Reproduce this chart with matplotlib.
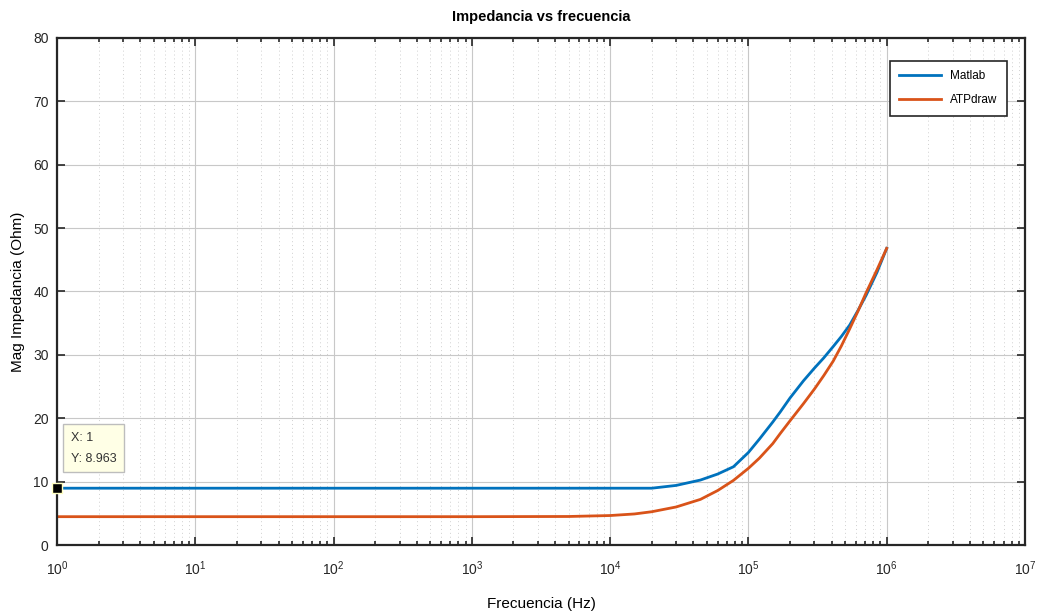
import numpy as np
import matplotlib.pyplot as plt
from matplotlib.ticker import LogLocator, NullFormatter

plt.rcParams['font.family'] = ['Liberation Sans', 'DejaVu Sans']

# Impedance magnitude read at selected frequencies
freq_matlab = [1, 1e2, 1e3, 1e4, 2e4, 3e4, 4.5e4, 6e4, 7.8e4, 1e5, 1.2e5, 1.5e5, 1.7e5,
               2e5, 2.5e5, 3e5, 3.5e5, 4.1e5, 4.7e5, 5.4e5, 6.2e5, 7.1e5, 8.5e5, 1e6]
mag_matlab = [8.963, 8.963, 8.963, 8.963, 8.963, 9.4, 10.25, 11.2, 12.35, 14.6, 16.7, 19.4, 21.0,
              23.2, 25.9, 27.9, 29.5, 31.3, 32.9, 34.7, 37.0, 39.4, 43.0, 46.8]

freq_atp = [1, 1e2, 1e3, 5e3, 1e4, 1.5e4, 2e4, 3e4, 4.5e4, 6e4, 7.8e4, 1e5, 1.2e5, 1.5e5,
            1.7e5, 2e5, 2.5e5, 3e5, 3.5e5, 4.1e5, 4.7e5, 5.4e5, 6.2e5, 7.1e5, 8.5e5, 1e6]
mag_atp = [4.47, 4.47, 4.47, 4.5, 4.65, 4.9, 5.25, 6.0, 7.2, 8.6, 10.2, 12.1, 13.7, 16.0,
           17.6, 19.6, 22.3, 24.6, 26.7, 29.0, 31.4, 34.1, 36.9, 39.8, 43.4, 46.8]

blue = '#0072BD'
orange = '#D95319'

fig = plt.figure(figsize=(10.39, 6.11), dpi=100)
ax = fig.add_axes([0.0549, 0.108, 0.9316, 0.830])

ax.semilogx(freq_matlab, mag_matlab, color=blue, lw=2, label='Matlab')
ax.semilogx(freq_atp, mag_atp, color=orange, lw=2, label='ATPdraw')

ax.set_xlim(1, 1e7)
ax.set_ylim(0, 80)
ax.set_yticks(np.arange(0, 81, 10))
ax.xaxis.set_major_locator(LogLocator(base=10, numticks=10))
ax.xaxis.set_minor_locator(LogLocator(base=10, subs=np.arange(2, 10), numticks=100))
ax.xaxis.set_minor_formatter(NullFormatter())

ax.grid(True, which='major', color='#c8c8c8', lw=0.8, ls='-')
ax.grid(True, which='minor', axis='x', color='#d0d0d0', lw=0.7, ls=(0, (1, 3)))
ax.set_axisbelow(True)

ax.tick_params(which='both', direction='in', top=True, right=True, labelsize=10,
               colors='#262626', width=1.2)
ax.tick_params(which='major', length=6)
ax.tick_params(which='minor', length=3)
ax.tick_params(axis='x', which='major', pad=10)
ax.tick_params(axis='y', which='major', pad=6)
for sp in ax.spines.values():
    sp.set_linewidth(1.6)
    sp.set_color('#262626')

ax.set_title('Impedancia vs frecuencia', fontsize=10.5, fontweight='bold', pad=12)
ax.set_xlabel('Frecuencia (Hz)', fontsize=11, labelpad=14)
ax.set_ylabel('Mag Impedancia (Ohm)', fontsize=11, labelpad=6)

leg = ax.legend(loc='upper right', fontsize=8.5, fancybox=False, framealpha=1,
                edgecolor='#262626', borderpad=0.8, labelspacing=1.0, handlelength=3.5,
                bbox_to_anchor=(0.9876, 0.966))
leg.get_frame().set_linewidth(1.2)

# Data tip on the first Matlab sample
ax.plot(freq_matlab[0], mag_matlab[0], marker='s', ms=7, mfc='black', mec='#ffffc0',
        mew=1, clip_on=False, zorder=5)
ax.annotate(f'X: {freq_matlab[0]:g}\nY: {mag_matlab[0]:.4g}', xy=(freq_matlab[0], mag_matlab[0]),
            xytext=(10, 17), textcoords='offset points', fontsize=9, color='#333333',
            linespacing=2.0, va='bottom', ha='left',
            bbox=dict(boxstyle='square,pad=0.6', fc='#ffffe6', ec='#bdbdbd', lw=1))

fig.savefig('out.png', dpi=100)
